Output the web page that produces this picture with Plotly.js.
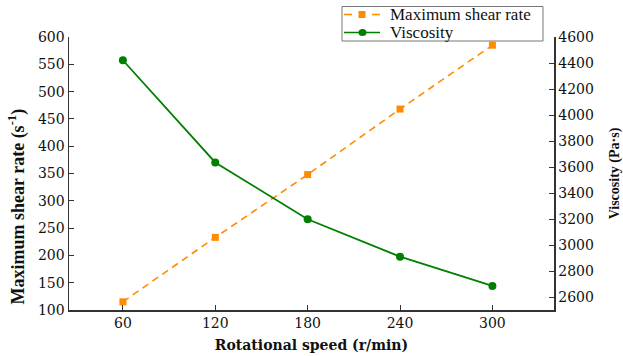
<!DOCTYPE html>
<html>
<head>
<meta charset="utf-8">
<script src="https://cdn.plot.ly/plotly-3.0.1.min.js"></script>
<style>html,body{margin:0;padding:0;background:#fff;}#chart{width:623px;height:356px;}</style>
</head>
<body>
<div id="chart"></div>
<script>
const speed = [60, 120, 180, 240, 300];
const shearRate = [115, 233, 348, 468, 585];
const viscosity = [4421, 3635, 3198, 2910, 2685];
const xTicks = [60, 120, 180, 240, 300];
const seriesNames = ["Maximum shear rate", "Viscosity"];
const seriesColors = ["#FF8C00", "#008000"];
const leftTitle = "Maximum shear rate (s<sup>-1</sup>)";

const serif = "'Liberation Serif', 'Times New Roman', serif";
const wideSerif = "'DejaVu Serif', serif";
const tickFont = {family: wideSerif, size: 14, color: "#111"};
const axisColor = "#333";

const traces = [
  {
    x: speed, y: shearRate, name: seriesNames[0], type: "scatter", mode: "lines+markers",
    line: {color: seriesColors[0], width: 1.6, dash: "7px,5px"},
    marker: {symbol: "square", size: 7, color: seriesColors[0]},
    yaxis: "y"
  },
  {
    x: speed, y: viscosity, name: seriesNames[1], type: "scatter", mode: "lines+markers",
    line: {color: seriesColors[1], width: 1.8},
    marker: {symbol: "circle", size: 8, color: seriesColors[1]},
    yaxis: "y2"
  }
];

// Legend drawn as a box in paper coordinates (Plotly's own legend cannot be this compact)
const M = {l: 69, r: 69, t: 37, b: 46};
const W = 623, H = 356;
const pw = W - M.l - M.r, ph = H - M.t - M.b;
const px = p => (p - M.l) / pw;
const py = p => (H - M.b - p) / ph;
const rows = [14.5, 32.5];
const shapes = [
  {type: "rect", xref: "paper", yref: "paper", x0: px(342), x1: px(543), y0: py(41), y1: py(6.5),
   line: {color: "#777", width: 1}, fillcolor: "#fff", layer: "above"},
  // row 1: dashed orange with square
  {type: "line", xref: "paper", yref: "paper", x0: px(344), x1: px(352), y0: py(rows[0]), y1: py(rows[0]),
   line: {color: seriesColors[0], width: 1.6}, layer: "above"},
  {type: "line", xref: "paper", yref: "paper", x0: px(372), x1: px(380), y0: py(rows[0]), y1: py(rows[0]),
   line: {color: seriesColors[0], width: 1.6}, layer: "above"},
  {type: "rect", xref: "paper", yref: "paper", x0: px(358.5), x1: px(365.5), y0: py(rows[0] + 3.5), y1: py(rows[0] - 3.5),
   line: {width: 0}, fillcolor: seriesColors[0], layer: "above"},
  // row 2: solid green with circle
  {type: "line", xref: "paper", yref: "paper", x0: px(344), x1: px(380), y0: py(rows[1]), y1: py(rows[1]),
   line: {color: seriesColors[1], width: 1.6}, layer: "above"},
  {type: "circle", xref: "paper", yref: "paper", x0: px(358.5), x1: px(366.5), y0: py(rows[1] + 3.5), y1: py(rows[1] - 3.5),
   line: {width: 0}, fillcolor: seriesColors[1], layer: "above"}
];
const annotations = seriesNames.map((n, i) => ({
  text: n, xref: "paper", yref: "paper", x: px(388), y: py(rows[i]), xanchor: "left", yanchor: "middle",
  showarrow: false, font: {family: serif, size: 17, color: "#111"}
}));
annotations.push({
  text: leftTitle, xref: "paper", yref: "paper", x: px(17.5), y: py(207), xanchor: "center", yanchor: "middle",
  textangle: -90, showarrow: false, font: {family: serif, size: 18, color: "#111", weight: "bold"}
});

const layout = {
  width: W, height: H,
  margin: {l: M.l, r: M.r, t: M.t, b: M.b, autoexpand: false},
  paper_bgcolor: "#fff", plot_bgcolor: "#fff",
  showlegend: false,
  shapes: shapes,
  annotations: annotations,
  xaxis: {
    range: [25, 340], tickvals: xTicks, ticktext: xTicks.map(String),
    showgrid: false, zeroline: false, showline: true, linecolor: axisColor, linewidth: 1.5,
    ticks: "inside", ticklen: 5, tickcolor: axisColor, tickfont: tickFont,
    title: {text: "Rotational speed (r/min)", font: {family: wideSerif, size: 14, color: "#111", weight: "bold"}, standoff: 10}
  },
  yaxis: {
    range: [100, 600], dtick: 50,
    showgrid: false, zeroline: false, showline: true, linecolor: axisColor, linewidth: 1.5,
    ticks: "inside", ticklen: 5, tickcolor: axisColor, tickfont: tickFont
  },
  yaxis2: {
    range: [2500, 4600], tickvals: [2600, 2800, 3000, 3200, 3400, 3600, 3800, 4000, 4200, 4400, 4600],
    overlaying: "y", side: "right",
    showgrid: false, zeroline: false, showline: true, linecolor: axisColor, linewidth: 1.5,
    ticks: "inside", ticklen: 5, tickcolor: axisColor, tickfont: tickFont,
    title: {text: "Viscosity (Pa·s)", font: {family: serif, size: 14, color: "#111", weight: "bold"}, standoff: 16}
  }
};

Plotly.newPlot("chart", traces, layout, {displayModeBar: false, staticPlot: true});
</script>
</body>
</html>
